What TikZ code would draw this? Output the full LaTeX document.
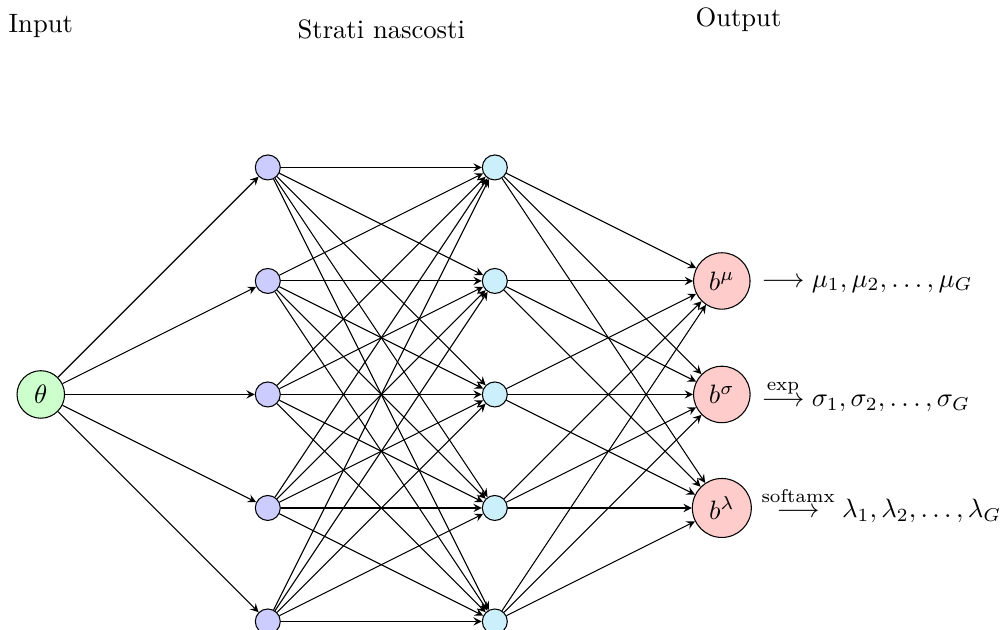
\documentclass[tikz,border=0pt]{standalone}
\usetikzlibrary{calc,arrows}
\begin{document}
\begin{tikzpicture}[>=stealth,
  inode/.style={circle,draw,fill=green!20},
  honode/.style={circle,draw,fill=blue!20,minimum size=9.4pt,inner sep=0pt},
  htnode/.style={circle,draw,fill=cyan!20,minimum size=9.4pt,inner sep=0pt},
  onode/.style={circle,draw,fill=red!20},
  conn/.style={->},
  lbl/.style={anchor=base,inner sep=0pt},
  outtxt/.style={anchor=base west,inner sep=0pt}]
\useasboundingbox (-0.539,-3.112) rectangle (12.676,5.213);
\node[inode] (th) at (0,0) {$\theta$};
\foreach \i/\y in {1/3,2/1.5,3/0,4/-1.5,5/-3} {
  \node[honode] (a\i) at (3,\y) {};
  \node[htnode] (h\i) at (6,\y) {};
}
\node[onode] (o1) at (9,1.5) {$b^\mu$};
\node[onode] (o2) at (9,0) {$b^\sigma$};
\node[onode] (o3) at (9,-1.5) {$b^\lambda$};
\foreach \i in {1,...,5} {
  \draw[conn] (th) -- (a\i);
  \foreach \j in {1,...,5} { \draw[conn] (a\i) -- (h\j); }
  \foreach \k in {1,2,3} { \draw[conn] (h\i) -- (o\k); }
}
\node[outtxt] (t1) at ($(o1)+(0.518,-0.08)$) {$\longrightarrow \mu_1, \mu_2, \ldots, \mu_G$};
\node[outtxt] (t2) at ($(o2)+(0.518,-0.165)$) {$\stackrel{\exp}{\longrightarrow} \sigma_1, \sigma_2, \ldots, \sigma_G$};
\node[outtxt] (t3) at ($(o3)+(0.518,-0.132)$) {$\stackrel{\mathrm{softamx}}{\longrightarrow} \lambda_1, \lambda_2, \ldots, \lambda_G$};
\node[lbl] (l1) at (0,4.777) {Input};
\node[lbl] (l2) at (4.5,4.698) {Strati nascosti};
\node[lbl] (l3) at (9.22,4.857) {Output};
\end{tikzpicture}
\end{document}
